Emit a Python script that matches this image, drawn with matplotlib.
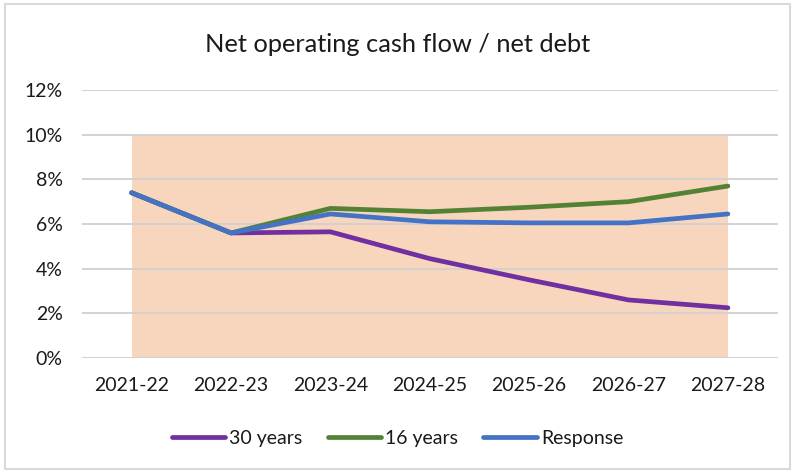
import matplotlib.pyplot as plt
from matplotlib.patches import Rectangle
from matplotlib.ticker import FuncFormatter

plt.rcParams['font.family'] = ['Lato', 'DejaVu Sans']

years = ['2021-22', '2022-23', '2023-24', '2024-25', '2025-26', '2026-27', '2027-28']
band_top = [10, 10, 10, 10, 10, 10, 10]
thirty_years = [7.4, 5.6, 5.65, 4.45, 3.5, 2.6, 2.25]
sixteen_years = [7.4, 5.6, 6.7, 6.55, 6.75, 7.0, 7.7]
response = [7.4, 5.6, 6.45, 6.1, 6.05, 6.05, 6.45]

fig = plt.figure(figsize=(7.95, 4.72), dpi=100)
ax = fig.add_axes([0.1031, 0.2415, 0.875, 0.5678])

x = list(range(len(years)))
ax.fill_between(x, 0, band_top, color='#F8D6BE', lw=0, zorder=1)

ax.plot(x, thirty_years, color='#7030A0', lw=3.4, solid_capstyle='round', label='30 years', zorder=3)
ax.plot(x, sixteen_years, color='#548235', lw=3.4, solid_capstyle='round', label='16 years', zorder=4)
ax.plot(x, response, color='#4472C4', lw=3.4, solid_capstyle='round', label='Response', zorder=5)

ax.set_xlim(-0.5, len(years) - 0.5)
ax.set_ylim(0, 12)
ax.set_yticks(range(0, 13, 2))
ax.yaxis.set_major_formatter(FuncFormatter(lambda v, p: f'{v:.0f}%'))
ax.set_xticks(x)
ax.set_xticklabels(years)
ax.tick_params(axis='both', length=0, labelsize=14, labelcolor='#1a1a1a')
ax.tick_params(axis='x', pad=14)
ax.tick_params(axis='y', pad=14)

ax.grid(axis='y', color='#D0D0D0', lw=1.3, zorder=2)
ax.set_axisbelow(False)
for side in ['top', 'right', 'left', 'bottom']:
    ax.spines[side].set_visible(False)

fig.text(0.5, 0.905, 'Net operating cash flow / net debt', ha='center', va='center',
         fontsize=18.3, color='#1a1a1a')

fig.legend(loc='center', bbox_to_anchor=(0.5, 0.072), ncol=3, frameon=False,
           fontsize=14, handlelength=2.75, handletextpad=0.2, columnspacing=1.3,
           labelcolor='#1a1a1a')

# light chart border
fig.patches.append(Rectangle((0.006, 0.006), 0.988, 0.986, transform=fig.transFigure,
                             fill=False, edgecolor='#D9D9D9', lw=1.5))

fig.savefig('out.png', dpi=100)
